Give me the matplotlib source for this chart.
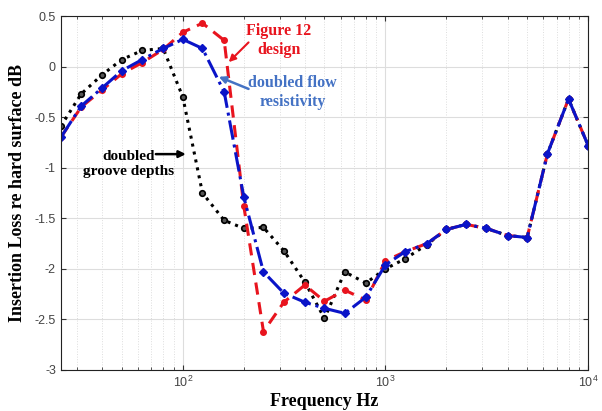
import matplotlib
matplotlib.use("Agg")
import matplotlib.pyplot as plt

plt.rcParams['axes.unicode_minus'] = False
plt.rcParams['font.family'] = ['Liberation Sans', 'DejaVu Sans']

freq = [25, 31.5, 40, 50, 63, 80, 100, 125, 160, 200, 250, 315, 400, 500,
        630, 800, 1000, 1250, 1600, 2000, 2500, 3150, 4000, 5000, 6300, 8000, 10000]

fig12 = [-0.70, -0.40, -0.23, -0.07, 0.04, 0.17, 0.34, 0.43, 0.26, -1.38, -2.62,
         -2.33, -2.16, -2.32, -2.21, -2.31, -1.92, -1.83, -1.75, -1.61, -1.56,
         -1.60, -1.67, -1.69, -0.86, -0.32, -0.78]
flow2 = [-0.70, -0.39, -0.21, -0.04, 0.07, 0.18, 0.27, 0.18, -0.25, -1.29, -2.03,
         -2.24, -2.33, -2.39, -2.44, -2.28, -1.96, -1.83, -1.75, -1.61, -1.56,
         -1.60, -1.67, -1.69, -0.86, -0.32, -0.78]
groove2 = [-0.59, -0.27, -0.08, 0.07, 0.16, 0.18, -0.30, -1.25, -1.52, -1.60, -1.59,
           -1.82, -2.13, -2.49, -2.03, -2.14, -2.00, -1.90, -1.76, -1.61, -1.56,
           -1.60, -1.67, -1.69, -0.86, -0.32, -0.78]

red = '#e8141e'
blue = '#0a14c8'
lblue = '#4472c4'

fig = plt.figure(figsize=(6.02, 4.11), dpi=100)
ax = fig.add_axes([0.101, 0.0998, 0.876, 0.861])

ax.plot(freq, groove2, ':', color='black', lw=2.2, marker='o', ms=4,
        mfc='#555555', mec='black', mew=1.2)
ax.plot(freq, fig12, '--', color=red, lw=2.2, dashes=(4, 2.5), marker='o', ms=4,
        mfc=red, mec=red)
ax.plot(freq, flow2, '-.', color=blue, lw=2.2, marker='D', ms=4,
        mfc=blue, mec=blue)

ax.set_xscale('log')
ax.set_xlim(25, 10000)
ax.set_ylim(-3, 0.5)
ax.set_yticks([-3, -2.5, -2, -1.5, -1, -0.5, 0, 0.5])
ax.set_yticklabels(['-3', '-2.5', '-2', '-1.5', '-1', '-0.5', '0', '0.5'])

ax.grid(True, which='major', color='#dddddd', lw=0.8)
ax.grid(True, which='minor', axis='x', color='#dddddd', lw=0.7, ls=':')
ax.tick_params(which='both', direction='in', top=True, right=True,
               labelsize=9, labelcolor='#444444', color='#333333')
for s in ax.spines.values():
    s.set_color('#222222')

serif = ['Liberation Serif', 'DejaVu Serif']
ax.set_xlabel('Frequency Hz', family=serif, fontweight='bold', fontsize=13, labelpad=2)
ax.set_ylabel('Insertion Loss re hard surface dB', family=serif, fontweight='bold',
              fontsize=13, labelpad=6)

# labels
ax.text(297, 0.26, 'Figure 12\ndesign', color=red, family=serif, fontweight='bold',
        fontsize=11.5, ha='center', va='center', linespacing=1.25)
ax.text(348, -0.26, 'doubled flow\nresistivity', color=lblue, family=serif,
        fontweight='bold', fontsize=11.5, ha='center', va='center', linespacing=1.25)
ax.text(54.2, -0.96, 'doubled\ngroove depths', color='black', family=serif,
        fontweight='bold', fontsize=11, ha='center', va='center', linespacing=1.2)

# arrows
ax.annotate('', xy=(168.5, 0.045), xytext=(211, 0.24),
            arrowprops=dict(arrowstyle='-|>', color=red, lw=1.5, mutation_scale=10,
                            shrinkA=0, shrinkB=0))
ax.annotate('', xy=(150.5, -0.10), xytext=(211, -0.22),
            arrowprops=dict(arrowstyle='-|>', color=lblue, lw=1.8, mutation_scale=10,
                            shrinkA=0, shrinkB=0))
ax.annotate('', xy=(103.5, -0.865), xytext=(73.6, -0.865),
            arrowprops=dict(arrowstyle='-|>', color='black', lw=1.8, mutation_scale=10,
                            shrinkA=0, shrinkB=0))

fig.savefig('out.png', dpi=100)
